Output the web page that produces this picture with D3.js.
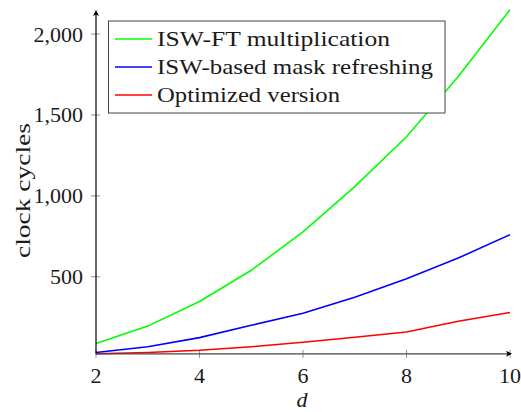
<!DOCTYPE html>
<html><head><meta charset="utf-8">
<script src="https://cdn.jsdelivr.net/npm/d3@7"></script>
<style>body{margin:0;background:#fff}svg{display:block}</style>
</head><body><svg id="c" width="521" height="412" font-family="'Liberation Serif', 'Times New Roman', serif"></svg>
<script>
const dValues = [2,3,4,5,6,7,8,9,10];
const seriesNames = ["ISW-FT multiplication","ISW-based mask refreshing","Optimized version"];
const seriesColors = ["#00ff00","#0000ff","#ff0000"];
const iswFT = [88,195,347,540,778,1057,1365,1738,2150];
const iswRefresh = [32,68,124,200,275,374,488,616,760];
const optimized = [24,32,46,68,95,126,159,225,279];
const xTicks = [2,4,6,8,10];
const yTicks = [500,1000,1500,2000];

const series = [iswFT, iswRefresh, optimized];
const svg = d3.select("#c");
const ymin = d3.min(series.flat()), ymax = d3.max(series.flat());
const x = d3.scaleLinear().domain([2,10]).range([96,510]);
const y = d3.scaleLinear().domain([ymin,ymax]).range([353.8,9.8]);
const fmt = d3.format(",");
const FS = 22;
const TXT = "#1a1a1a";

const g = svg.append("g").attr("fill",TXT);
yTicks.forEach(t=>{
  g.append("line").attr("x1",91).attr("x2",100).attr("y1",y(t)).attr("y2",y(t)).attr("stroke","#777").attr("stroke-width",0.8);
  g.append("text").attr("x",83).attr("y",y(t)+7.5).attr("text-anchor","end").attr("font-size",FS).text(fmt(t));
});
xTicks.forEach(t=>{
  g.append("line").attr("x1",x(t)).attr("x2",x(t)).attr("y1",y(ymin)-4).attr("y2",y(ymin)+4).attr("stroke","#777").attr("stroke-width",0.8);
  g.append("text").attr("x",x(t)).attr("y",383).attr("text-anchor","middle").attr("font-size",FS).text(t);
});

const line = d3.line().x((d,i)=>x(dValues[i])).y(d=>y(d));
series.forEach((s,i)=>{
  svg.append("path").attr("d",line(s)).attr("fill","none").attr("stroke",seriesColors[i]).attr("stroke-width",1.6);
});

svg.append("line").attr("x1",96).attr("x2",96).attr("y1",y(ymin)).attr("y2",14).attr("stroke","#000").attr("stroke-width",1.2);
svg.append("path").attr("d","M96,10 L93,16 L96,14.5 L99,16 Z").attr("fill","#000");
svg.append("line").attr("x1",96).attr("x2",508).attr("y1",y(ymin)).attr("y2",y(ymin)).attr("stroke","#444").attr("stroke-width",1.2);
svg.append("path").attr("d",`M512,${y(ymin)} L506,${y(ymin)-3} L507.5,${y(ymin)} L506,${y(ymin)+3} Z`).attr("fill","#000");

svg.append("text").attr("transform","translate(30,190.5) rotate(-90)").attr("text-anchor","middle").attr("font-size",FS).attr("fill",TXT)
  .attr("textLength",135).attr("lengthAdjust","spacingAndGlyphs").text("clock cycles");
svg.append("text").attr("x",302).attr("y",407).attr("text-anchor","middle").attr("font-size",FS).attr("font-style","italic").attr("fill",TXT).text("d");

const legendWidths = [233,276,183];
const lg = svg.append("g");
lg.append("rect").attr("x",108.5).attr("y",21).attr("width",336.5).attr("height",92).attr("fill","#fff").attr("stroke","#444").attr("stroke-width",1);
seriesNames.forEach((n,i)=>{
  const yy = 39 + i*28;
  lg.append("line").attr("x1",115).attr("x2",152).attr("y1",yy).attr("y2",yy).attr("stroke",seriesColors[i]).attr("stroke-width",1.6);
  lg.append("text").attr("x",157).attr("y",yy+6.5).attr("font-size",FS).attr("fill",TXT)
    .attr("textLength",legendWidths[i]).attr("lengthAdjust","spacingAndGlyphs").text(n);
});
</script></body></html>
